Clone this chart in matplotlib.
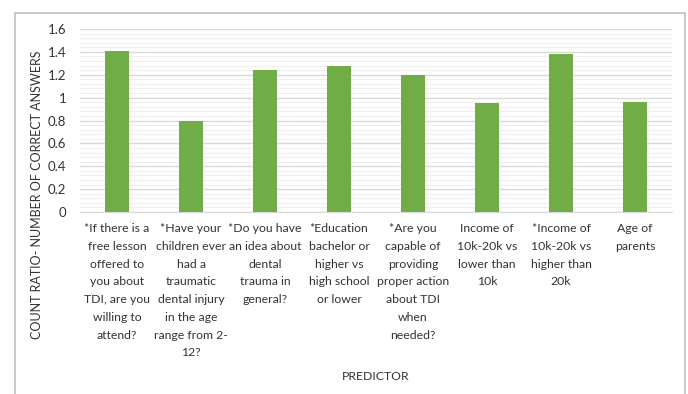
import numpy as np
import matplotlib.pyplot as plt
import matplotlib.patches as patches
from matplotlib.ticker import MultipleLocator

# predictors (already wrapped like in the original chart)
predictors = [
    "*If there is a\nfree lesson\noffered to\nyou about\nTDI, are you\nwilling to\nattend?",
    "*Have your\nchildren ever\nhad a\ntraumatic\ndental injury\nin the age\nrange from 2-\n12?",
    "*Do you have\nan idea about\ndental\ntrauma in\ngeneral?",
    "*Education\nbachelor or\nhigher vs\nhigh school\nor lower",
    "*Are you\ncapable of\nproviding\nproper action\nabout TDI\nwhen\nneeded?",
    "Income of\n10k-20k vs\nlower than\n10k",
    "*Income of\n10k-20k vs\nhigher than\n20k",
    "Age of\nparents",
]
count_ratio = [1.41, 0.80, 1.24, 1.28, 1.20, 0.95, 1.38, 0.96]
y_ticks = [0, 0.2, 0.4, 0.6, 0.8, 1, 1.2, 1.4, 1.6]
y_tick_labels = ["0", "0.2", "0.4", "0.6", "0.8", "1", "1.2", "1.4", "1.6"]

plt.rcParams['font.family'] = ['Lato', 'DejaVu Sans']
txt = '#333333'

fig = plt.figure(figsize=(6.88, 3.94), dpi=100)
ax = fig.add_axes([0.1163, 0.4619, 0.8604, 0.4645])

# outer chart border (bottom runs off the picture)
fig.patches.append(patches.Rectangle((15/688, -0.05), 670/688, 1.05 - 13/394,
                                     transform=fig.transFigure, fill=False,
                                     edgecolor='#bfbfbf', linewidth=1.2))

x_pos = np.arange(len(predictors))
ax.bar(x_pos, count_ratio, width=0.33, color='#70ad47', zorder=3)

ax.set_xlim(-0.5, len(predictors) - 0.5)
ax.set_ylim(0, 1.6)
ax.set_yticks(y_ticks)
ax.set_yticklabels(y_tick_labels)
ax.yaxis.set_minor_locator(MultipleLocator(0.04))
ax.grid(axis='y', which='major', color='#d9d9d9', linewidth=1, zorder=0)
ax.grid(axis='y', which='minor', color='#efefef', linewidth=0.8, zorder=0)
ax.set_xticks(x_pos)
ax.set_xticklabels(predictors, linespacing=1.75, fontsize=8.8)

for s in ['top', 'right', 'left']:
    ax.spines[s].set_visible(False)
ax.spines['bottom'].set_color('#d9d9d9')
ax.tick_params(axis='both', which='both', length=0, colors=txt)
ax.tick_params(axis='y', pad=10, labelsize=9.5)
ax.tick_params(axis='x', pad=8)

fig.text(376/688, 1 - 377/394, 'PREDICTOR', ha='center', va='center',
         fontsize=8.8, color=txt)
fig.text(37/688, 1 - 195/394, 'COUNT RATIO- NUMBER OF CORRECT ANSWERS',
         ha='center', va='center', rotation=90, fontsize=9, color=txt)

fig.savefig('out.png', dpi=100)
